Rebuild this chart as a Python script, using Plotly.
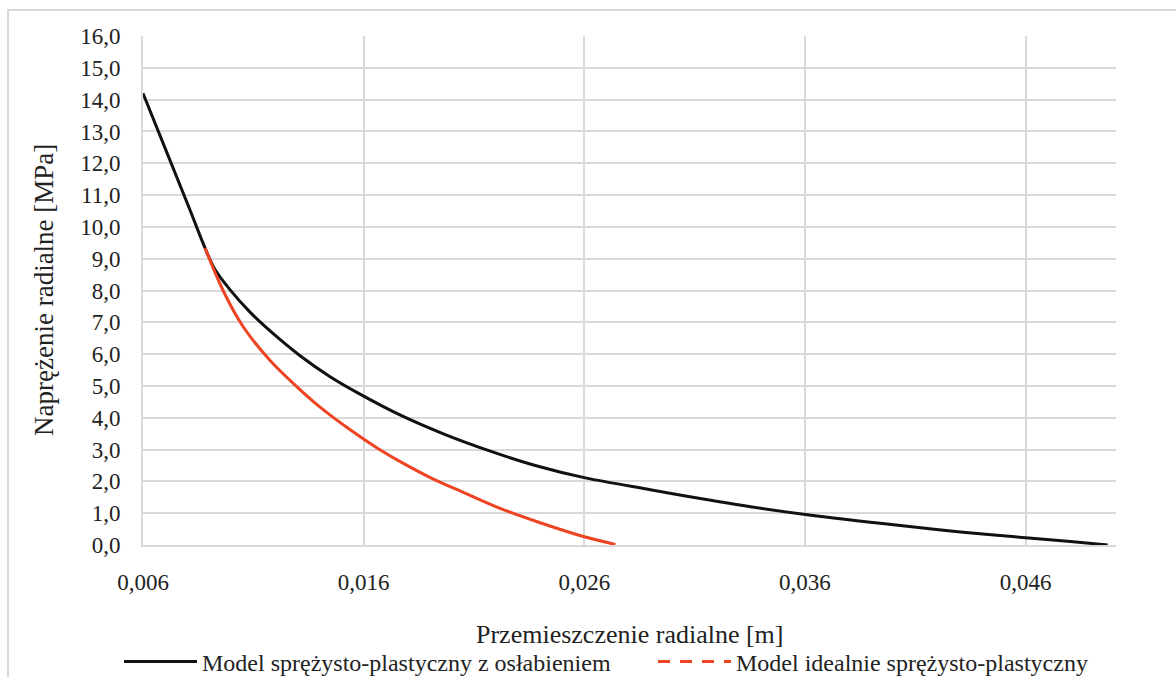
import plotly.graph_objects as go

# Data
x_weak = [0.00600, 0.00722, 0.00813, 0.00881, 0.00927, 0.00995, 0.01085, 0.01176,
          0.01312, 0.01448, 0.01571, 0.01779, 0.01970, 0.02174, 0.02378, 0.02605,
          0.02899, 0.03126, 0.03353, 0.03611, 0.04033, 0.04305, 0.04614, 0.04804,
          0.04972]
y_weak = [14.20, 12.10, 10.53, 9.34, 8.65, 8.02, 7.32, 6.73,
          5.95, 5.29, 4.79, 4.04, 3.47, 2.95, 2.50, 2.11,
          1.74, 1.46, 1.20, 0.95, 0.61, 0.41, 0.22, 0.11,
          0.00]

x_ideal = [0.00881, 0.00963, 0.01054, 0.01176, 0.01298, 0.01394, 0.01539, 0.01661,
           0.01766, 0.01902, 0.02060, 0.02219, 0.02400, 0.02605, 0.02741]
y_ideal = [9.34, 8.00, 6.86, 5.80, 4.97, 4.38, 3.62, 3.05,
           2.62, 2.12, 1.63, 1.15, 0.70, 0.25, 0.02]

x_ticks = [0.006, 0.016, 0.026, 0.036, 0.046]
y_ticks = [0, 1, 2, 3, 4, 5, 6, 7, 8, 9, 10, 11, 12, 13, 14, 15, 16]

name_weak = "Model sprężysto-plastyczny z osłabieniem"
name_ideal = "Model idealnie sprężysto-plastyczny"
x_title = "Przemieszczenie radialne [m]"
y_title = "Naprężenie radialne [MPa]"

BLACK = "#111111"
RED = "#EE4423"
GRID = "#D9D9D9"
TXT = "#222222"
FONT = "Liberation Serif, Times New Roman, serif"

fig = go.Figure()
fig.add_trace(go.Scatter(x=x_weak, y=y_weak, mode="lines", name=name_weak,
                         line=dict(color=BLACK, width=3, shape="spline", smoothing=1.0)))
fig.add_trace(go.Scatter(x=x_ideal, y=y_ideal, mode="lines", name=name_ideal,
                         showlegend=False,
                         line=dict(color=RED, width=3, shape="spline", smoothing=1.0)))
# legend-only entry (dashed as in the reference legend)
fig.add_trace(go.Scatter(x=[None], y=[None], mode="lines", name=name_ideal,
                         line=dict(color=RED, width=3, dash="12px,10px")))

W, H = 1176, 677
L, R, T, B = 143, 60, 36, 132
pw, ph = W - L - R, H - T - B

def px_x(p):
    return (p - L) / pw

def px_y(p):
    return (H - B - p) / ph

fig.update_layout(
    width=W, height=H,
    margin=dict(l=L, r=R, t=T, b=B, autoexpand=False),
    paper_bgcolor="white", plot_bgcolor="white",
    separators=", ",
    font=dict(family=FONT, size=23, color=TXT),
    showlegend=True,
    legend=dict(orientation="h", x=px_x(119), xanchor="left", y=px_y(662), yanchor="middle",
                font=dict(family=FONT, size=24, color=TXT),
                itemwidth=73, tracegroupgap=0,
                entrywidth=446, entrywidthmode="pixels"),
    shapes=[dict(type="rect", xref="paper", yref="paper",
                 x0=px_x(8), x1=px_x(1190), y0=px_y(700), y1=px_y(10),
                 line=dict(color=GRID, width=2), fillcolor="rgba(0,0,0,0)", layer="below")],
    annotations=[
        dict(text=x_title, xref="paper", yref="paper", x=px_x(629.5), y=px_y(634),
             xanchor="center", yanchor="middle", showarrow=False,
             font=dict(family=FONT, size=26, color=TXT)),
        dict(text=y_title, xref="paper", yref="paper", x=px_x(44), y=px_y(290),
             xanchor="center", yanchor="middle", showarrow=False, textangle=-90,
             font=dict(family=FONT, size=27, color=TXT)),
    ],
)

fig.update_xaxes(
    range=[0.006, 0.0501], automargin=False,
    tickmode="array", tickvals=x_ticks, tickformat=".3f",
    showgrid=True, gridcolor=GRID, gridwidth=2,
    showline=True, linecolor=GRID, linewidth=2,
    zeroline=False, ticks="", ticklabelstandoff=15,
    tickfont=dict(family=FONT, size=23, color=TXT),
)
fig.update_yaxes(
    range=[0, 16], automargin=False,
    tickmode="array", tickvals=y_ticks, tickformat=".1f",
    showgrid=True, gridcolor=GRID, gridwidth=2,
    showline=True, linecolor=GRID, linewidth=2,
    zeroline=False, ticks="", ticklabelstandoff=16,
    tickfont=dict(family=FONT, size=23, color=TXT),
)

fig.write_html("out.html")
